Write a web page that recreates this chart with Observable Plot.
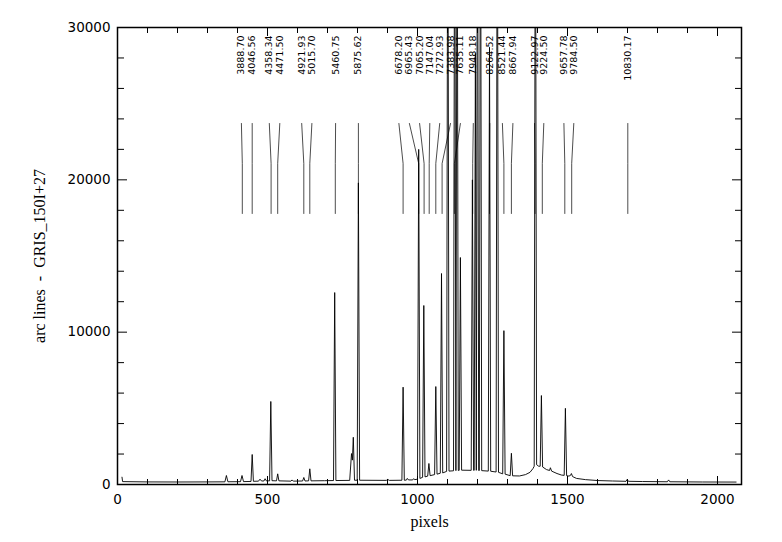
<!DOCTYPE html>
<html><head><meta charset="utf-8">
<script src="https://cdn.jsdelivr.net/npm/d3@7"></script>
<script src="https://cdn.jsdelivr.net/npm/@observablehq/plot@0.6"></script>
<style>html,body{margin:0;padding:0;background:#fff;} #chart svg{display:block}</style>
</head><body><div id="chart"></div>
<script>
// Arc spectrum: [pixel, counts]
const spectrum = [
  [15,480],[17,190],[100,170],[200,165],[300,170],[358,175],[363,590],[368,180],
  [410,185],[415,590],[420,190],[445,200],[449,1970],[453,210],[470,220],[475,350],[480,230],
  [488,230],[492,380],[496,240],[507,240],[511,5450],[515,250],[530,240],[534,700],[538,240],
  [578,220],[582,300],[586,220],[617,230],[621,460],[625,230],[637,240],[641,1030],[645,240],
  [690,250],[720,260],[724,12600],[728,260],[774,270],[780,2030],[783,1600],[786,3100],[790,280],
  [799,280],[803,19800],[807,280],[896,270],[901,330],[906,270],[948,280],[952,6390],[956,280],
  [963,290],[966,400],[970,300],[984,300],[987,380],[991,320],[1000,350],[1004,22000],[1008,400],
  [1017,470],[1021,11750],[1025,500],[1034,550],[1038,1380],[1042,580],[1057,650],[1061,6430],[1065,680],
  [1076,740],[1080,13850],[1084,760],[1097,860],[1101,45000],[1105,880],[1120,900],[1124,45000],[1128,910],
  [1132,45000],[1136,920],[1139,930],[1143,14900],[1147,940],[1179,930],[1183,20000],[1187,930],
  [1189,930],[1193,28300],[1196,930],[1200,45000],[1204,920],[1206,920],[1210,45000],[1214,910],
  [1236,880],[1240,28700],[1244,870],[1262,820],[1266,45000],[1270,800],[1284,700],[1288,10100],[1292,680],
  [1309,580],[1313,2050],[1317,570],[1340,560],[1360,650],[1375,800],[1385,1050],[1389,1200],[1393,45000],
  [1397,1300],[1404,1200],[1409,1200],[1413,5840],[1417,1150],[1430,980],[1440,920],[1443,1100],[1447,880],
  [1465,720],[1480,620],[1489,600],[1493,5000],[1497,580],[1505,550],[1510,600],[1513,720],[1517,520],
  [1530,400],[1560,320],[1600,260],[1650,230],[1695,210],[1699,330],[1703,210],[1750,195],
  [1833,180],[1837,300],[1841,180],[1950,165],[2062,160]
];

// Identified lines
const lineLabels = ["3888.70","4046.56","4358.34","4471.50","4921.93","5015.70","5460.75","5875.62",
  "6678.20","6965.43","7065.20","7147.04","7272.93","7383.98","7635.11","7948.18","8264.52","8521.44",
  "8667.94","9122.97","9224.50","9657.78","9784.50","10830.17"];
const labelPixel = [413,449,506,541,614,648,727,803,938,973,1007,1041,1074,1110,1143,1186,1241,1283,
  1318,1390,1421,1488,1521,1701];
const linePixel = [416,449,512,534,621,641,726,803,952,1004,1022,1039,1061,1082,1123,1184,1240,1288,
  1313,1392,1416,1491,1514,1701];
const markerLevels = [23700, 21070, 17790];

const xMajorTicks = [0,500,1000,1500,2000];
const xTickLabels = ["0","500","1000","1500","2000"];
const xMinorTicks = [100,200,300,400,600,700,800,900,1100,1200,1300,1400,1600,1700,1800,1900];
const yMajorTicks = [0,10000,20000,30000];
const yTickLabels = ["0","10000","20000","30000"];
const yMinorTicks = [2000,4000,6000,8000,12000,14000,16000,18000,22000,24000,26000,28000];
const xTitle = "pixels";
const yTitle = "arc lines\u00a0\u00a0-\u00a0\u00a0GRIS_150I+27";

const specData = spectrum.map(([p, c]) => ({p, c}));
const markerPts = lineLabels.flatMap((w, i) => [
  {id: i, x: labelPixel[i], y: markerLevels[0]},
  {id: i, x: linePixel[i], y: markerLevels[1]},
  {id: i, x: linePixel[i], y: markerLevels[2]}
]);
const labelData = lineLabels.map((w, i) => ({w, x: labelPixel[i]}));

const chart = Plot.plot({
  width: 782, height: 542,
  marginTop: 27, marginBottom: 58, marginLeft: 117, marginRight: 41,
  x: {domain: [0, 2080]},
  y: {domain: [0, 30000]},
  style: {fontFamily: "DejaVu Sans", fontSize: "13.5px", color: "#000", background: "#fff"},
  marks: [
    Plot.line(specData, {x: "p", y: "c", stroke: "#000", strokeWidth: 0.9, clip: true}),
    Plot.line(markerPts, {x: "x", y: "y", z: "id", stroke: "#000", strokeWidth: 0.7}),
    Plot.text(labelData, {x: "x", text: "w", frameAnchor: "top", dy: 8, rotate: -90,
      textAnchor: "end", lineAnchor: "middle", fontSize: 9.5, fill: "#000"}),
    Plot.frame({stroke: "#000", strokeWidth: 1.5}),
    // inward ticks on all sides
    Plot.axisX(xMajorTicks, {anchor: "bottom", tickSize: -8, fill: "none", tickFormat: () => "", label: null}),
    Plot.axisX(xMinorTicks, {anchor: "bottom", tickSize: -5, fill: "none", tickFormat: () => "", label: null}),
    Plot.axisX(xMajorTicks, {anchor: "top", tickSize: -8, fill: "none", tickFormat: () => "", label: null}),
    Plot.axisX(xMinorTicks, {anchor: "top", tickSize: -5, fill: "none", tickFormat: () => "", label: null}),
    Plot.axisY(yMajorTicks, {anchor: "left", tickSize: -10, fill: "none", tickFormat: () => "", label: null}),
    Plot.axisY(yMinorTicks, {anchor: "left", tickSize: -7, fill: "none", tickFormat: () => "", label: null}),
    Plot.axisY(yMajorTicks, {anchor: "right", tickSize: -10, fill: "none", tickFormat: () => "", label: null}),
    Plot.axisY(yMinorTicks, {anchor: "right", tickSize: -7, fill: "none", tickFormat: () => "", label: null}),
    // tick labels
    Plot.axisX(xMajorTicks, {anchor: "bottom", tickSize: 0, tickPadding: 10,
      tickFormat: d => xTickLabels[xMajorTicks.indexOf(d)], label: null, fontSize: 13.5}),
    Plot.axisY(yMajorTicks, {anchor: "left", tickSize: 0, tickPadding: 7,
      tickFormat: d => yTickLabels[yMajorTicks.indexOf(d)], label: null, fontSize: 13.5}),
    // titles
    Plot.text([xTitle], {frameAnchor: "bottom", dy: 37, text: d => d, lineAnchor: "middle",
      fontFamily: "Liberation Serif", fontSize: 16, fill: "#000"}),
    Plot.text([yTitle], {frameAnchor: "left", dx: -78, rotate: -90, text: d => d, lineAnchor: "middle",
      textAnchor: "middle", fontFamily: "Liberation Serif", fontSize: 16, fill: "#000"})
  ]
});
document.getElementById("chart").appendChild(chart);
</script>
</body></html>
